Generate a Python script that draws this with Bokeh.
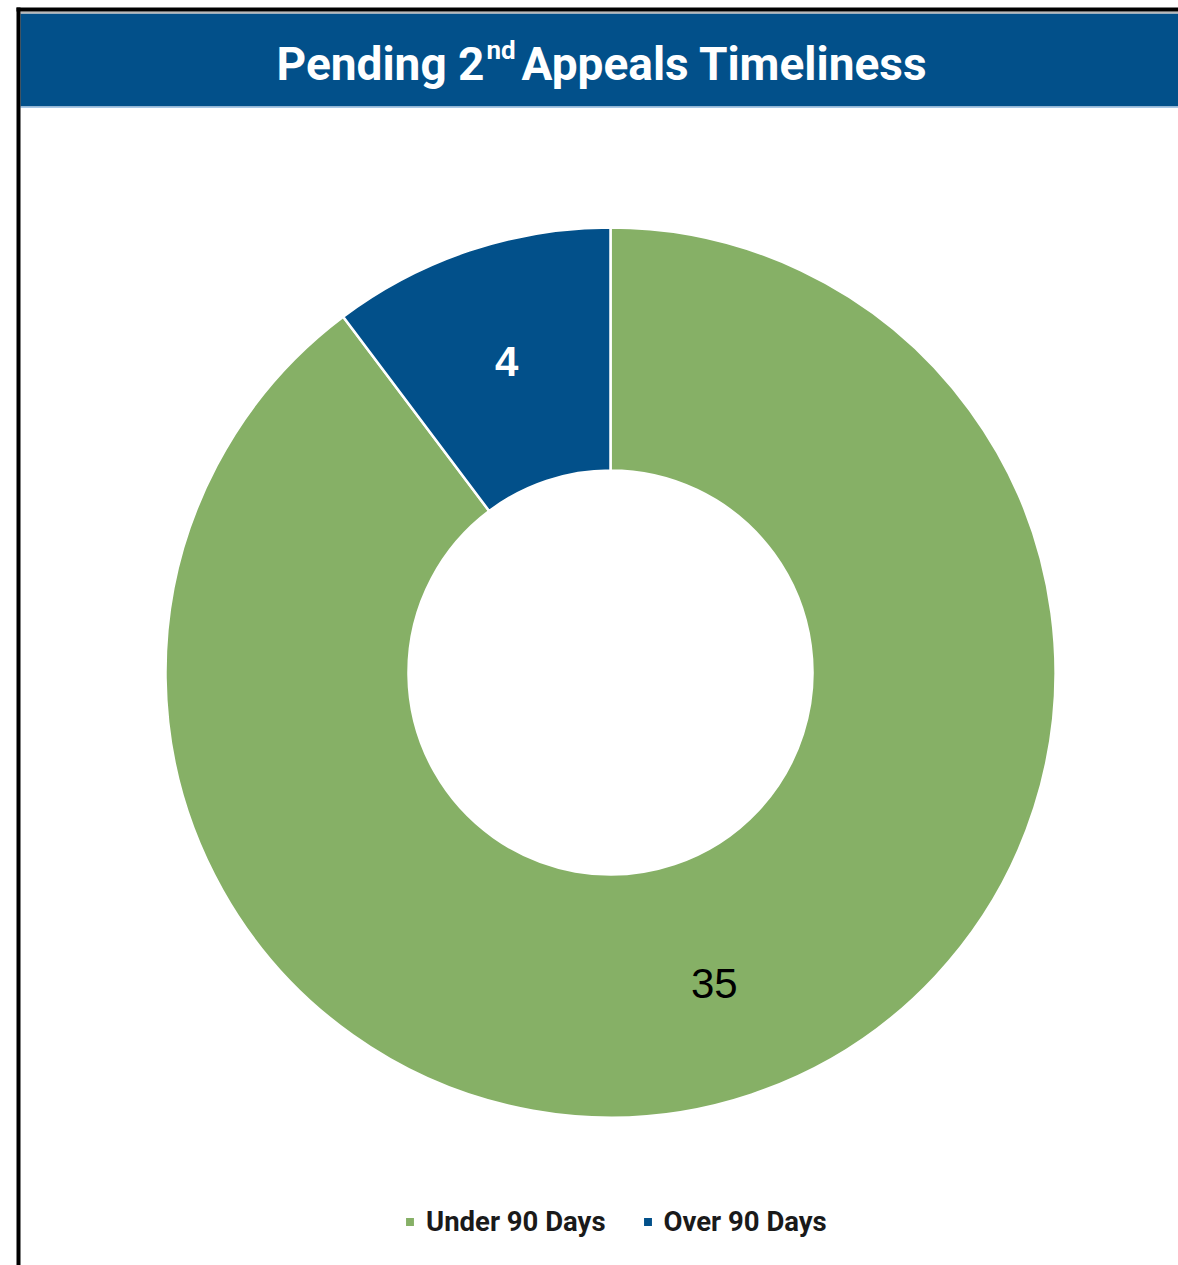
import math
from bokeh.plotting import figure
from bokeh.models import Range1d, BoxAnnotation, ColumnDataSource, Legend, LegendItem
from bokeh.core.properties import value
from bokeh.embed import file_html
from bokeh.resources import INLINE

# ---- data ----
categories = ["Under 90 Days", "Over 90 Days"]
counts = [35, 4]
slice_colors = ["#86B066", "#02508A"]
label_colors = ["#000000", "#FFFFFF"]
label_styles = ["normal", "bold"]
title_parts = ["Pending 2", "nd", "Appeals Timeliness"]

W, H = 1178, 1265
BLUE = "#02508A"
FONT = "Roboto"

p = figure(width=W, height=H, x_range=Range1d(0, W), y_range=Range1d(0, H),
           output_backend="svg", toolbar_location=None, min_border=0,
           x_axis_type=None, y_axis_type=None)
p.grid.visible = False
p.outline_line_color = None
p.background_fill_color = "white"
p.border_fill_color = "white"

def box(**kw):
    p.add_layout(BoxAnnotation(fill_alpha=1, line_color=None, level="underlay", **kw))

# frame / banner
box(left=20, bottom=1159, top=1252, fill_color=BLUE)
box(left=20, bottom=1157.5, top=1159, fill_color="#A9C8E6")
box(left=20, bottom=1252, top=1254, fill_color="#B8B8B8")
box(left=16, bottom=1254, top=1258, fill_color="black")
box(left=16, right=20, top=1258, fill_color="black")

# title pieces
fnt = value(FONT)
p.text(x=[484], y=[1202], text=[title_parts[0]], text_font=fnt, text_font_style="bold",
       text_font_size="46px", text_color="white", text_baseline="alphabetic", text_align="right")
p.text(x=[486], y=[1216], text=[title_parts[1]], text_font=fnt, text_font_style="bold",
       text_font_size="26px", text_color="white", text_baseline="alphabetic", text_align="left")
p.text(x=[521], y=[1202], text=[title_parts[2]], text_font=fnt, text_font_style="bold",
       text_font_size="46px", text_color="white", text_baseline="alphabetic", text_align="left")

# donut
total = sum(counts)
starts, ends, mids = [], [], []
a = math.pi / 2
for c in counts:
    sweep = 2 * math.pi * c / total
    starts.append(a)
    ends.append(a - sweep)
    mids.append(a - sweep / 2)
    a -= sweep

cx, cy = 610, 593
r_in, r_out = 202, 445
r_lab = 328
src = ColumnDataSource(dict(
    cat=categories, val=[str(v) for v in counts], color=slice_colors, lc=label_colors,
    ls=label_styles, start=starts, end=ends,
    lx=[cx + r_lab * math.cos(m) for m in mids],
    ly=[cy + r_lab * math.sin(m) for m in mids],
    x=[cx] * len(counts), y=[cy] * len(counts),
))
wedges = p.annular_wedge(x="x", y="y", inner_radius=r_in, outer_radius=r_out,
                         inner_radius_units="screen", outer_radius_units="screen",
                         start_angle="start", end_angle="end", direction="clock",
                         fill_color="color", line_color="white", line_width=2.5, source=src)
p.text(x="lx", y="ly", text="val", text_color="lc", text_font=value("Liberation Sans"),
       text_font_style="ls", text_font_size="42px", text_align="center", text_baseline="middle",
       source=src)

legend = Legend(items=[LegendItem(label=categories[i], renderers=[wedges], index=i) for i in range(len(categories))],
                orientation="horizontal", location=(403, 27), border_line_color=None,
                background_fill_alpha=0, label_text_font=FONT, label_text_font_style="bold",
                label_text_font_size="27.5px", label_text_color="#1a1a1a", glyph_width=13, glyph_height=13,
                spacing=35, padding=0, margin=0, label_standoff=10)
p.add_layout(legend, "center")

open("out.html", "w").write(file_html(p, INLINE))
